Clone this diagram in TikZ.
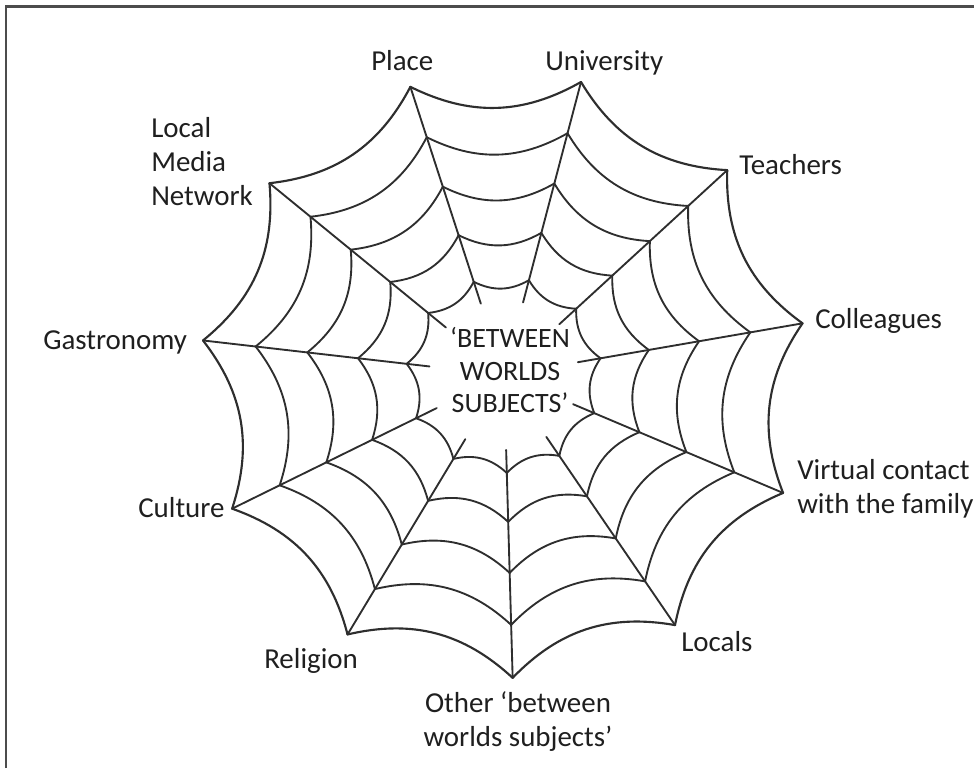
\documentclass[tikz,border=0pt]{standalone}
\usepackage{fontspec}
\setmainfont{Carlito}
\usetikzlibrary{calc}
\begin{document}
\begin{tikzpicture}[x=0.75pt,y=0.75pt,
  web/.style={line width=1.4pt, draw=black!82, line cap=round, line join=round},
  lbl/.style={font=\fontsize{21.7}{25.5}\selectfont, inner sep=0pt, text=black!88},
  ctr/.style={font=\fontsize{21}{24.4}\selectfont, inner sep=0pt, text=black!88, align=center}]
\useasboundingbox (0,0) rectangle (974,768);
\draw[line width=1.6pt, draw=black!70] (6,0) -- (6,761.5) -- (974,761.5);
\coordinate (c) at (504,393);
\foreach \k in {0,...,10}{
  \pgfmathsetmacro\ang{108-32.7273*\k}
  \coordinate (v\k) at ($(c)+(\ang:303)$);
  \coordinate (s\k-1) at ($(c)+(\ang:250)$);
  \coordinate (s\k-2) at ($(c)+(\ang:198)$);
  \coordinate (s\k-3) at ($(c)+(\ang:147)$);
  \coordinate (s\k-4) at ($(c)+(\ang:98)$);
  \coordinate (e\k) at ($(c)+(\ang:75)$);
}
\foreach \k in {0,...,10}{
  \draw[web] (v\k) -- (e\k);
}
\foreach \k in {0,...,10}{
  \pgfmathtruncatemacro\n{mod(\k+1,11)}
  \draw[web, line width=1.6pt] (v\k) to[bend right=28] (v\n);
  \foreach \j in {1,...,4}{
    \draw[web] (s\k-\j) to[bend right=28] (s\n-\j);
  }
}
\node[lbl, anchor=base west] (place) at (371,697) {Place};
\node[lbl, anchor=base west] (univ) at (545,697) {University};
\node[lbl, anchor=base west] (teach) at (739,593) {Teachers};
\node[lbl, anchor=base west] (coll) at (815,439) {Colleagues};
\node[lbl, anchor=base west, align=left] (virt) at (797,254) {Virtual contact\\with the family};
\node[lbl, anchor=base west] (locals) at (681,117) {Locals};
\node[lbl, anchor=base, align=center] (other) at (518,22) {Other ‘between\\worlds subjects’};
\node[lbl, anchor=base west] (relig) at (264,100) {Religion};
\node[lbl, anchor=base west] (cult) at (138,251) {Culture};
\node[lbl, anchor=base west] (gastro) at (43,418) {Gastronomy};
\node[lbl, anchor=base west, align=left] (lmn) at (151,562) {Local\\Media\\Network};
\node[ctr, anchor=base] (centre) at (510,355) {‘BETWEEN\\WORLDS\\SUBJECTS’};
\end{tikzpicture}
\end{document}
